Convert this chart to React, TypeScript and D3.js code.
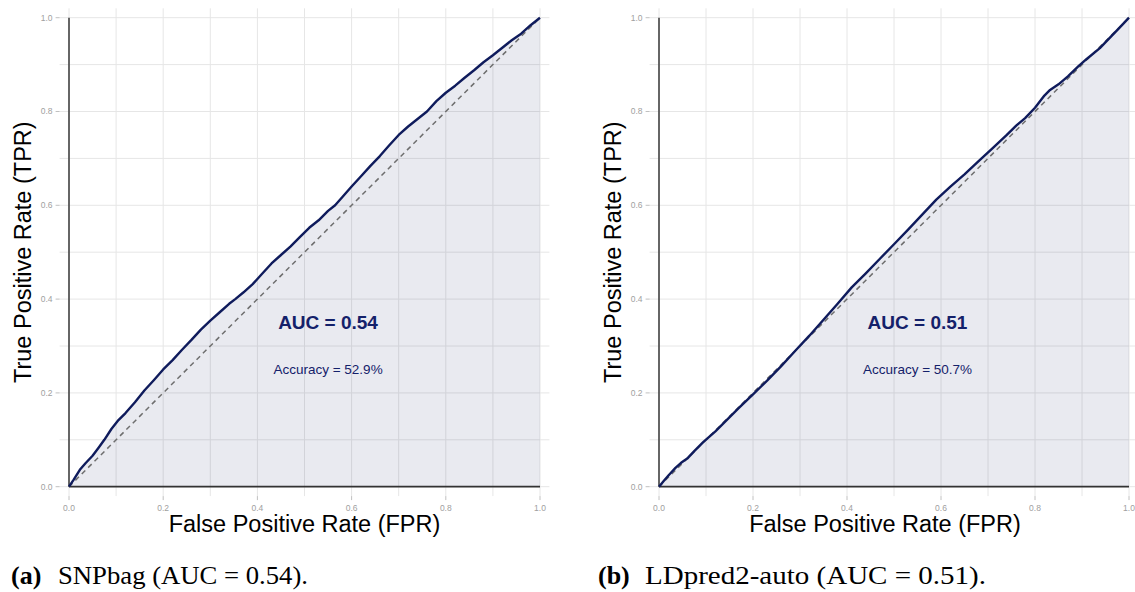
import React, { useEffect, useRef } from 'react'
import * as d3 from 'd3'

// ROC points
const snpbagFpr = [0, 0.01, 0.023, 0.035, 0.05, 0.062, 0.075, 0.09, 0.105, 0.12, 0.14, 0.16, 0.18, 0.2, 0.22, 0.24, 0.26, 0.28, 0.3, 0.32, 0.34, 0.353, 0.37, 0.39, 0.41, 0.43, 0.45, 0.47, 0.49, 0.51, 0.53, 0.55, 0.565, 0.58, 0.6, 0.62, 0.64, 0.66, 0.68, 0.7, 0.72, 0.74, 0.76, 0.78, 0.8, 0.82, 0.84, 0.86, 0.88, 0.9, 0.92, 0.94, 0.96, 0.98, 1]
const snpbagTpr = [0, 0.015, 0.036, 0.05, 0.066, 0.082, 0.1, 0.123, 0.142, 0.157, 0.18, 0.205, 0.227, 0.25, 0.27, 0.292, 0.313, 0.335, 0.354, 0.372, 0.39, 0.4, 0.414, 0.432, 0.454, 0.476, 0.494, 0.512, 0.532, 0.552, 0.568, 0.588, 0.6, 0.617, 0.64, 0.662, 0.684, 0.705, 0.728, 0.75, 0.768, 0.784, 0.8, 0.822, 0.84, 0.855, 0.872, 0.888, 0.905, 0.92, 0.936, 0.952, 0.966, 0.984, 1]
const ldpredFpr = [0, 0.01, 0.021, 0.035, 0.047, 0.06, 0.075, 0.094, 0.12, 0.145, 0.17, 0.2, 0.23, 0.26, 0.29, 0.32, 0.35, 0.38, 0.41, 0.44, 0.47, 0.5, 0.53, 0.56, 0.59, 0.62, 0.65, 0.68, 0.71, 0.74, 0.76, 0.779, 0.8, 0.82, 0.832, 0.85, 0.87, 0.892, 0.91, 0.938, 0.96, 0.98, 1]
const ldpredTpr = [0, 0.012, 0.025, 0.04, 0.051, 0.06, 0.076, 0.095, 0.118, 0.143, 0.168, 0.197, 0.226, 0.257, 0.29, 0.322, 0.356, 0.39, 0.425, 0.455, 0.486, 0.517, 0.548, 0.58, 0.612, 0.64, 0.666, 0.694, 0.722, 0.75, 0.77, 0.786, 0.808, 0.834, 0.846, 0.858, 0.875, 0.896, 0.912, 0.935, 0.958, 0.979, 1]

const majorTicks = [0, 0.2, 0.4, 0.6, 0.8, 1]
const minorTicks = [0.1, 0.3, 0.5, 0.7, 0.9]
const tickLabels = ['0.0', '0.2', '0.4', '0.6', '0.8', '1.0']

const aucLabels = ['AUC = 0.54', 'AUC = 0.51']
const accLabels = ['Accuracy = 52.9%', 'Accuracy = 50.7%']
const tags = ['(a)', '(b)']
const captions = ['SNPbag (AUC = 0.54).', 'LDpred2-auto (AUC = 0.51).']

const panels = [
  { fpr: snpbagFpr, tpr: snpbagTpr, left: 69, right: 540, titleX: 304.5, capX: 11, capRest: 58, capEnd: 308 },
  { fpr: ldpredFpr, tpr: ldpredTpr, left: 659, right: 1129, titleX: 885, capX: 598, capRest: 645, capEnd: 986 },
]

const top = 17.7
const bottom = 486.7
const navy = '#0f1b5c'
const sans = 'Liberation Sans, Arial, sans-serif'

function drawPanel(svg, p, i) {
  const x = d3.scaleLinear().domain([0, 1]).range([p.left, p.right])
  const y = d3.scaleLinear().domain([0, 1]).range([bottom, top])
  const g = svg.append('g')

  const all = majorTicks.concat(minorTicks)
  // grid
  g.selectAll('.vg').data(all).enter().append('line')
    .attr('x1', (d) => x(d)).attr('x2', (d) => x(d))
    .attr('y1', y(-0.02)).attr('y2', y(1.02))
    .attr('stroke', '#e6e6e6').attr('stroke-width', 1)
  g.selectAll('.hg').data(all).enter().append('line')
    .attr('y1', (d) => y(d)).attr('y2', (d) => y(d))
    .attr('x1', x(-0.02)).attr('x2', x(1.02))
    .attr('stroke', '#e6e6e6').attr('stroke-width', 1)

  const pts = p.fpr.map((f, k) => [f, p.tpr[k]])

  // shaded area under the curve
  const area = d3.area().x((d) => x(d[0])).y0(y(0)).y1((d) => y(d[1]))
  g.append('path').attr('d', area(pts)).attr('fill', navy).attr('fill-opacity', 0.09)

  // chance line
  g.append('line')
    .attr('x1', x(0)).attr('y1', y(0)).attr('x2', x(1)).attr('y2', y(1))
    .attr('stroke', '#6e6e6e').attr('stroke-width', 1.5).attr('stroke-dasharray', '5,4')

  // axis lines
  g.append('line').attr('x1', x(0)).attr('x2', x(0)).attr('y1', y(0)).attr('y2', y(1))
    .attr('stroke', '#4d4d4d').attr('stroke-width', 1.7)
  g.append('line').attr('x1', x(0)).attr('x2', x(1)).attr('y1', y(0)).attr('y2', y(0))
    .attr('stroke', '#333').attr('stroke-width', 1.7)

  const line = d3.line().x((d) => x(d[0])).y((d) => y(d[1]))
  g.append('path').attr('d', line(pts)).attr('fill', 'none')
    .attr('stroke', navy).attr('stroke-width', 2.4).attr('stroke-linejoin', 'round')

  // ticks
  const px0 = x(-0.02)
  const py0 = y(-0.02)
  majorTicks.forEach((t, k) => {
    g.append('line').attr('x1', px0 - 4).attr('x2', px0).attr('y1', y(t)).attr('y2', y(t))
      .attr('stroke', '#b0b0b0').attr('stroke-width', 0.8)
    g.append('text').attr('x', px0 - 7).attr('y', y(t)).attr('dy', '0.35em')
      .attr('text-anchor', 'end').attr('font-family', sans).attr('font-size', 8.5)
      .attr('fill', '#a0a0a0').text(tickLabels[k])
    g.append('line').attr('x1', x(t)).attr('x2', x(t)).attr('y1', py0).attr('y2', py0 + 4)
      .attr('stroke', '#b0b0b0').attr('stroke-width', 0.8)
    g.append('text').attr('x', x(t)).attr('y', py0 + 12).attr('dy', '0.35em')
      .attr('text-anchor', 'middle').attr('font-family', sans).attr('font-size', 8.5)
      .attr('fill', '#a0a0a0').text(tickLabels[k])
  })

  // titles
  g.append('text').attr('x', p.titleX).attr('y', 532).attr('text-anchor', 'middle')
    .attr('font-family', sans).attr('font-size', 23.5).attr('fill', '#000')
    .text('False Positive Rate (FPR)')
  g.append('text')
    .attr('transform', `translate(${p.left - 38},${(top + bottom) / 2}) rotate(-90)`)
    .attr('text-anchor', 'middle').attr('font-family', sans).attr('font-size', 23.5)
    .attr('fill', '#000').text('True Positive Rate (TPR)')

  // annotations
  g.append('text').attr('x', x(0.55)).attr('y', y(0.35)).attr('dy', '0.35em')
    .attr('text-anchor', 'middle').attr('font-family', sans).attr('font-weight', 'bold')
    .attr('font-size', 19).attr('fill', '#14216a').text(aucLabels[i])
  g.append('text').attr('x', x(0.55)).attr('y', y(0.25)).attr('dy', '0.35em')
    .attr('text-anchor', 'middle').attr('font-family', sans)
    .attr('font-size', 13.5).attr('fill', '#14216a').text(accLabels[i])

  // subfigure caption
  const serif = 'Liberation Serif, Times New Roman, serif'
  g.append('text').attr('x', p.capX).attr('y', 584).attr('font-family', serif)
    .attr('font-size', 26).attr('font-weight', 'bold').text(tags[i])
  g.append('text').attr('x', p.capRest).attr('y', 584).attr('font-family', serif)
    .attr('font-size', 26).attr('textLength', p.capEnd - p.capRest)
    .attr('lengthAdjust', 'spacingAndGlyphs').text(captions[i])
}

export default function App() {
  const ref = useRef(null)
  useEffect(() => {
    const svg = d3.select(ref.current)
    svg.selectAll('*').remove()
    panels.forEach((p, i) => drawPanel(svg, p, i))
  }, [])
  return (
    <svg
      ref={ref}
      width={1135}
      height={592}
      style={{ position: 'absolute', left: 0, top: 0, background: '#fff' }}
    />
  )
}
